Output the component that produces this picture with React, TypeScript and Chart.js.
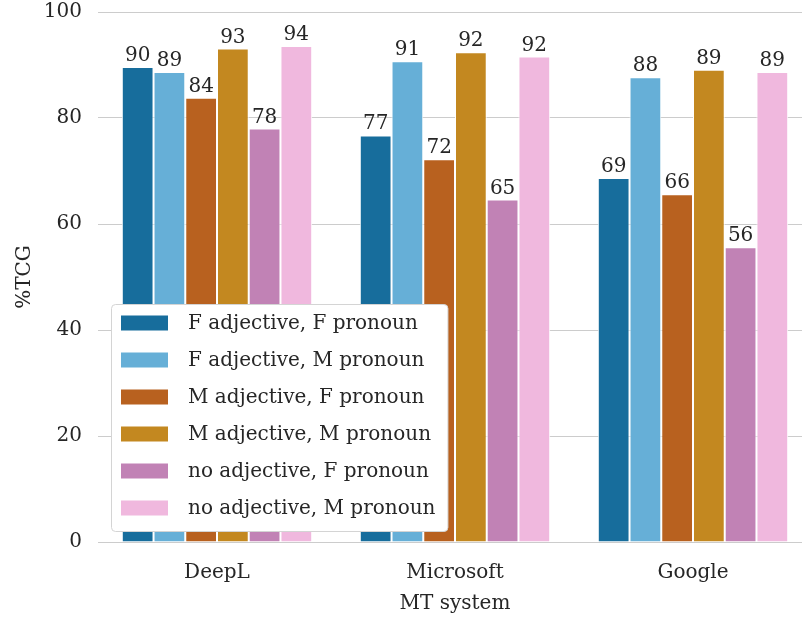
import React, { useEffect, useRef } from "react";
import { Chart, registerables } from "chart.js";

Chart.register(...registerables);

const categories = ["DeepL", "Microsoft", "Google"];
const seriesLabels = [
  "F adjective, F pronoun",
  "F adjective, M pronoun",
  "M adjective, F pronoun",
  "M adjective, M pronoun",
  "no adjective, F pronoun",
  "no adjective, M pronoun",
];
const fAdjFPron = [89.6, 76.7, 68.7];
const fAdjMPron = [88.7, 90.7, 87.7];
const mAdjFPron = [83.8, 72.2, 65.6];
const mAdjMPron = [93.1, 92.4, 89.1];
const noAdjFPron = [78.0, 64.6, 55.6];
const noAdjMPron = [93.6, 91.6, 88.7];
const seriesValues = [fAdjFPron, fAdjMPron, mAdjFPron, mAdjMPron, noAdjFPron, noAdjMPron];
const seriesColors = ["#176d9c", "#66afd7", "#b8611f", "#c38820", "#c182b5", "#f0b8de"];
const yTicks = [0, 20, 40, 60, 80, 100];

const FONT = "'DejaVu Serif', serif";
const TEXT = "#262626";

const valueLabelPlugin = {
  id: "valueLabels",
  afterDatasetsDraw(chart: any) {
    const ctx = chart.ctx;
    ctx.save();
    ctx.font = `20px ${FONT}`;
    ctx.fillStyle = TEXT;
    ctx.textAlign = "center";
    ctx.textBaseline = "alphabetic";
    chart.data.datasets.forEach((ds: any, di: number) => {
      const meta = chart.getDatasetMeta(di);
      meta.data.forEach((bar: any, i: number) => {
        const v = ds.data[i] as number;
        ctx.fillText(String(Math.round(v)), bar.x, bar.y - 6);
      });
    });
    ctx.restore();
  },
};

const boxLegendPlugin = {
  id: "boxLegend",
  afterDraw(chart: any) {
    const { ctx, chartArea } = chart;
    const datasets = chart.data.datasets;
    ctx.save();
    ctx.font = `20px ${FONT}`;
    const labels: string[] = datasets.map((d: any) => d.label);
    const maxW = Math.max(...labels.map((l) => ctx.measureText(l).width));
    const swX = 10, swW = 47, swH = 15, gap = 20, rowH = 37, padTop = 19, padBottom = 23, padRight = 12;
    const w = swX + swW + gap + maxW + padRight;
    const h = padTop + rowH * (labels.length - 1) + padBottom;
    const x = chartArea.left + 13;
    const y = chartArea.bottom - 11 - h;
    ctx.beginPath();
    ctx.roundRect(x + 0.5, y + 0.5, w, h, 4);
    ctx.fillStyle = "#ffffff";
    ctx.fill();
    ctx.strokeStyle = "#d4d4d4";
    ctx.lineWidth = 1;
    ctx.stroke();
    labels.forEach((l, i) => {
      const cy = y + padTop + rowH * i;
      ctx.fillStyle = datasets[i].backgroundColor;
      ctx.fillRect(x + swX, cy - swH / 2, swW, swH);
      ctx.fillStyle = TEXT;
      ctx.textAlign = "left";
      ctx.textBaseline = "middle";
      ctx.fillText(l, x + swX + swW + gap, cy + 1);
    });
    ctx.restore();
  },
};

export default function App() {
  const canvasRef = useRef<HTMLCanvasElement | null>(null);

  useEffect(() => {
    if (!canvasRef.current) return;
    const font = { family: FONT, size: 20 };
    const chart = new Chart(canvasRef.current, {
      type: "bar",
      data: {
        labels: categories,
        datasets: seriesLabels.map((label, i) => ({
          label,
          data: seriesValues[i],
          backgroundColor: seriesColors[i],
          borderColor: "#ffffff",
          borderWidth: 1,
          categoryPercentage: 0.8,
          barPercentage: 1.0,
        })),
      },
      options: {
        animation: false,
        responsive: false,
        maintainAspectRatio: false,
        layout: { padding: { top: 0, left: 0, right: 0, bottom: 0 } },
        plugins: {
          legend: { display: false },
          tooltip: { enabled: false },
        },
        scales: {
          x: {
            grid: { display: false, drawTicks: false },
            border: { display: false },
            ticks: { font, color: TEXT, padding: 19 },
            title: { display: true, text: "MT system", font, color: TEXT, padding: { top: 0, bottom: 3 } },
            afterFit: (s: any) => {
              s.height = 77;
            },
          },
          y: {
            min: 0,
            max: 100,
            afterBuildTicks: (s: any) => {
              s.ticks = yTicks.map((v) => ({ value: v }));
            },
            grid: { color: "#cccccc", lineWidth: 1, drawTicks: false },
            border: { display: false },
            ticks: { font, color: TEXT, padding: 16 },
            title: { display: true, text: "%TCG", font, color: TEXT, padding: { top: 13, bottom: 0 } },
            afterFit: (s: any) => {
              s.width = 98;
              s.paddingTop = 12;
              s.paddingBottom = 0;
            },
          },
        },
      } as any,
      plugins: [valueLabelPlugin, boxLegendPlugin],
    });
    return () => chart.destroy();
  }, []);

  return (
    <div style={{ position: "fixed", left: 0, top: 0, width: 802, height: 619, overflow: "hidden", background: "#fff" }}>
      <canvas ref={canvasRef} width={812} height={619} style={{ display: "block" }} />
    </div>
  );
}
